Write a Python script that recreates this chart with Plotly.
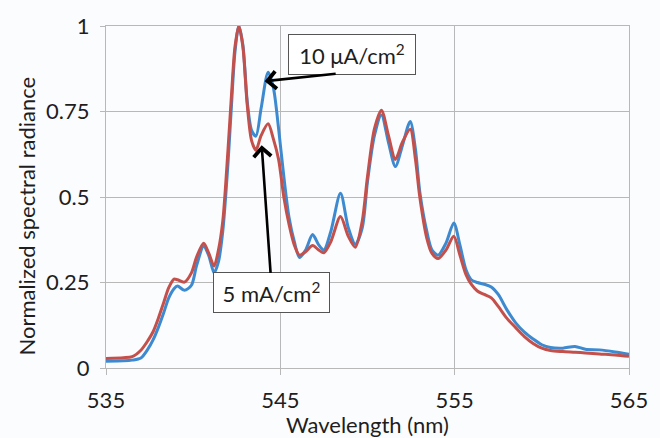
import plotly.graph_objects as go

# Wavelength grid (nm)
wavelength = [535.0, 536.0, 536.5, 537.0, 537.4, 537.7, 538.0, 538.3, 538.6, 538.9,
              539.1, 539.5, 539.9, 540.2, 540.6, 540.9, 541.2, 541.45, 541.7, 542.0,
              542.2, 542.4, 542.62, 542.85, 543.1, 543.35, 543.6, 543.9, 544.3, 544.6,
              544.9, 545.2, 545.5, 545.8, 546.1, 546.45, 546.85, 547.2, 547.5, 547.9,
              548.45, 548.9, 549.3, 549.7, 550.0, 550.4, 550.8, 551.2, 551.6, 552.0,
              552.45, 552.75, 553.0, 553.4, 553.7, 554.05, 554.5, 554.95, 555.3, 555.65,
              555.95, 556.3, 556.7, 557.1, 557.5, 558.0, 558.5, 559.0, 559.5, 560.0,
              560.5, 561.2, 561.9, 562.5, 563.3, 564.2, 565.0]

# 10 uA/cm2 (blue)
radiance_10uA = [0.020, 0.021, 0.023, 0.029, 0.055, 0.082, 0.118, 0.160, 0.205, 0.232,
                 0.240, 0.227, 0.242, 0.300, 0.356, 0.328, 0.278, 0.310, 0.400, 0.600,
                 0.770, 0.925, 1.000, 0.945, 0.780, 0.695, 0.678, 0.760, 0.865, 0.820,
                 0.700, 0.560, 0.440, 0.370, 0.323, 0.345, 0.390, 0.360, 0.345, 0.400,
                 0.511, 0.410, 0.362, 0.410, 0.545, 0.680, 0.740, 0.660, 0.589, 0.650,
                 0.721, 0.640, 0.515, 0.400, 0.345, 0.330, 0.365, 0.424, 0.360, 0.287,
                 0.258, 0.250, 0.245, 0.237, 0.215, 0.170, 0.132, 0.105, 0.085, 0.068,
                 0.060, 0.058, 0.063, 0.055, 0.053, 0.047, 0.040]

# 5 mA/cm2 (red)
radiance_5mA = [0.028, 0.030, 0.033, 0.052, 0.080, 0.106, 0.145, 0.190, 0.235, 0.260,
                0.258, 0.251, 0.278, 0.325, 0.365, 0.335, 0.298, 0.345, 0.430, 0.640,
                0.800, 0.940, 1.000, 0.940, 0.770, 0.665, 0.637, 0.680, 0.714, 0.670,
                0.610, 0.500, 0.420, 0.360, 0.330, 0.340, 0.358, 0.345, 0.337, 0.370,
                0.443, 0.385, 0.353, 0.430, 0.560, 0.700, 0.754, 0.680, 0.610, 0.660,
                0.698, 0.610, 0.500, 0.380, 0.335, 0.320, 0.345, 0.385, 0.330, 0.273,
                0.245, 0.225, 0.215, 0.205, 0.180, 0.145, 0.118, 0.092, 0.072, 0.058,
                0.051, 0.048, 0.046, 0.044, 0.041, 0.038, 0.034]

x_ticks = [535, 545, 555, 565]
y_ticks = [0, 0.25, 0.5, 0.75, 1]
y_tick_labels = ["0", "0.25", "0.5", "0.75", "1"]

FONT = "Lato, 'Open Sans', sans-serif"
TXT = "#1e1e1e"
GRID = "#b8b8b8"
FS = 22

fig = go.Figure()
fig.add_trace(go.Scatter(x=wavelength, y=radiance_10uA, mode="lines",
                         line=dict(color="#3d8ad0", width=3, shape="spline", smoothing=0.8),
                         showlegend=False, hoverinfo="skip"))
fig.add_trace(go.Scatter(x=wavelength, y=radiance_5mA, mode="lines",
                         line=dict(color="#c4504c", width=3, shape="spline", smoothing=0.8),
                         showlegend=False, hoverinfo="skip"))

fig.update_layout(
    width=660, height=438,
    margin=dict(l=106, r=20, t=15, b=70),
    paper_bgcolor="#fbfcfe", plot_bgcolor="#fbfcfe",
    font=dict(family=FONT, size=FS, color=TXT),
    xaxis=dict(range=[535, 565], tickvals=x_ticks, ticktext=[str(v) for v in x_ticks],
               showgrid=True, gridcolor=GRID, gridwidth=1.3,
               showline=True, linecolor=GRID, linewidth=1.3, mirror=True,
               ticks="outside", ticklen=6, tickcolor=GRID, zeroline=False,
               ticklabelstandoff=6,
               tickfont=dict(size=FS, color=TXT, family=FONT)),
    yaxis=dict(range=[0, 1], tickvals=y_ticks, ticktext=y_tick_labels,
               showgrid=True, gridcolor=GRID, gridwidth=1.3,
               showline=True, linecolor=GRID, linewidth=1.3, mirror=True,
               ticks="outside", ticklen=5, tickcolor=GRID, zeroline=False,
               ticklabelstandoff=6,
               tickfont=dict(size=FS, color=TXT, family=FONT)),
)

# Axis titles
fig.add_annotation(text="Wavelength (nm)", xref="paper", yref="paper", x=0.5, y=-0.166,
                   xanchor="center", yanchor="middle", showarrow=False,
                   font=dict(size=FS, color=TXT, family=FONT))
fig.add_annotation(text="Normalized spectral radiance", xref="paper", yref="paper",
                   x=-0.1517, y=0.4448, xanchor="center", yanchor="middle", textangle=-90,
                   showarrow=False, font=dict(size=FS, color=TXT, family=FONT))

# Label boxes
fig.add_annotation(text="10 μA/cm<sup>2</sup>", xref="x", yref="y", x=549.10, y=0.9164,
                   xanchor="center", yanchor="middle", showarrow=False,
                   width=126, height=39, bgcolor="white", bordercolor="#555555",
                   borderwidth=1, borderpad=0, font=dict(size=FS, color=TXT, family=FONT))
fig.add_annotation(text="5 mA/cm<sup>2</sup>", xref="x", yref="y", x=543.93, y=0.6516,
                   axref="x", ayref="y", ax=544.52, ay=0.2195,
                   showarrow=True, arrowhead=4, arrowsize=1.3, arrowwidth=2.6,
                   arrowcolor="black", standoff=0,
                   width=115, height=39, bgcolor="white", bordercolor="#555555",
                   borderwidth=1, borderpad=0, font=dict(size=FS, color=TXT, family=FONT))

# Arrow pointing to the 10 uA/cm2 curve
fig.add_annotation(text="", xref="x", yref="y", x=544.10, y=0.8385,
                   axref="x", ayref="y", ax=548.26, ay=0.861,
                   showarrow=True, arrowhead=4, arrowsize=1.3, arrowwidth=2.6,
                   arrowcolor="black", standoff=0)

fig.write_html("out.html")
